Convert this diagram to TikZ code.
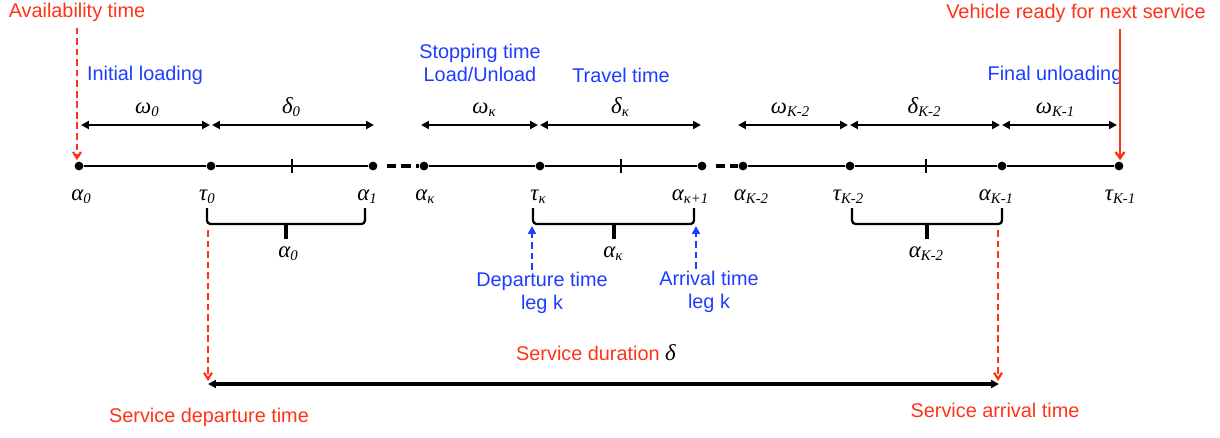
\documentclass[tikz,border=0pt]{standalone}
\usepackage[no-math]{fontspec}
\setmainfont{Liberation Sans}
\newfontfamily\gfont{Liberation Serif}
\newcommand\gl[2]{{\gfont\itshape\fontsize{13}{15}\selectfont #1\raisebox{-2.2pt}{\fontsize{8.4}{9}\selectfont #2}}}
\usetikzlibrary{arrows.meta,calc}
\definecolor{myred}{RGB}{255,51,25}
\definecolor{myblue}{RGB}{30,60,255}
\begin{document}
\begin{tikzpicture}[x=0.02cm,y=-0.02cm,
  dot/.style={circle,fill=black,inner sep=0pt,minimum size=5pt},
  tick/.style={fill=black,inner sep=0pt,minimum width=1.3pt,minimum height=7.5pt},
  axis/.style={line width=1.2pt},
  gapline/.style={line width=1.8pt,dash pattern=on 5.5pt off 3pt,shorten <=5pt},
  dim/.style={line width=1.2pt,{Triangle[length=4.5pt,width=4.5pt]}-{Triangle[length=4.5pt,width=4.5pt]}},
  bigdim/.style={line width=1.8pt,{Triangle[length=4.5pt,width=4.5pt]}-{Triangle[length=4.5pt,width=4.5pt]}},
  greek/.style={inner sep=0pt,anchor=base},
  sans/.style={font=\fontsize{11.3}{13}\selectfont,inner sep=0pt,align=center},
  bluetxt/.style={sans,text=myblue},
  redtxt/.style={sans,text=myred},
  reddash/.style={draw=myred,line width=1.3pt,dash pattern=on 3.8pt off 2.2pt,-{Straight Barb[length=3.5pt,width=4.5pt]}},
  redsolid/.style={draw=myred,line width=1.4pt,-{Straight Barb[length=3.5pt,width=5pt]}},
  bluedash/.style={draw=myblue,line width=1.6pt,dash pattern=on 3.8pt off 2.2pt,-{Triangle[length=4.5pt,width=4.5pt]}},
  bracket/.style={line width=1.3pt,rounded corners=2pt},
  nub/.style={line width=2.3pt}
]
\useasboundingbox (0,0) rectangle (1220,437);

% main time line points
\node[dot] (a0)  at (79,166)  {};
\node[dot] (t0)  at (211,166) {};
\node[dot] (a1)  at (373,166) {};
\node[dot] (ak)  at (424,166) {};
\node[dot] (tk)  at (540,166) {};
\node[dot] (ak1) at (702,166) {};
\node[dot] (aK2) at (743,166) {};
\node[dot] (tK2) at (850,166) {};
\node[dot] (aK1) at (1002,166) {};
\node[dot] (tK1) at (1119,166) {};

\draw[axis] (a0) -- (t0);
\draw[axis] (t0) -- (a1);
\draw[axis] (ak) -- (tk);
\draw[axis] (tk) -- (ak1);
\draw[axis] (aK2) -- (tK2);
\draw[axis] (tK2) -- (aK1);
\draw[axis] (aK1) -- (tK1);
\draw[gapline] (a1) -- (ak);
\draw[gapline] (ak1) -- (aK2);

\node[tick] (m0) at (292,166) {};
\node[tick] (m1) at (621,166) {};
\node[tick] (m2) at (926,166) {};

% labels under the line
\node[greek] (la0)  at (81,200)   {\gl{α}{0}};
\node[greek] (lt0)  at (207,200)  {\gl{τ}{0}};
\node[greek] (la1)  at (367,200)  {\gl{α}{1}};
\node[greek] (lak)  at (425,200)  {\gl{α}{κ}};
\node[greek] (ltk)  at (538,200)  {\gl{τ}{κ}};
\node[greek] (lak1) at (690,200)  {\gl{α}{κ+1}};
\node[greek] (laK2) at (751,200)  {\gl{α}{K-2}};
\node[greek] (ltK2) at (848,200)  {\gl{τ}{K-2}};
\node[greek] (laK1) at (996,200)  {\gl{α}{K-1}};
\node[greek] (ltK1) at (1120,200) {\gl{τ}{K-1}};

% interval arrows above the line
\coordinate (ay) at (0,125);
\draw[dim] ($(a0|-ay)+(2,0)$)  -- ($(t0|-ay)+(-1,0)$);
\draw[dim] ($(t0|-ay)+(1,0)$)  -- ($(a1|-ay)+(1,0)$);
\draw[dim] ($(ak|-ay)+(-3,0)$) -- ($(tk|-ay)+(-2,0)$);
\draw[dim] ($(tk|-ay)+(0,0)$)  -- ($(ak1|-ay)+(-1,0)$);
\draw[dim] ($(aK2|-ay)+(-5,0)$) -- ($(tK2|-ay)+(-2,0)$);
\draw[dim] ($(tK2|-ay)+(0,0)$) -- ($(aK1|-ay)+(-2,0)$);
\draw[dim] ($(aK1|-ay)+(0,0)$) -- ($(tK1|-ay)+(-2,0)$);

\node[greek] (lw0)  at (147,113)  {\gl{ω}{0}};
\node[greek] (ld0)  at (291,113)  {\gl{δ}{0}};
\node[greek] (lwk)  at (484,113)  {\gl{ω}{κ}};
\node[greek] (ldk)  at (620,113)  {\gl{δ}{κ}};
\node[greek] (lwK2) at (790,113)  {\gl{ω}{K-2}};
\node[greek] (ldK2) at (924,113)  {\gl{δ}{K-2}};
\node[greek] (lwK1) at (1055,113) {\gl{ω}{K-1}};

% blue descriptions
\node[bluetxt] (init)  at (145,75)  {Initial loading};
\node[bluetxt] (stop)  at (480,63)  {Stopping time\\Load/Unload};
\node[bluetxt] (trav)  at (621,75)  {Travel time};
\node[bluetxt] (final) at (1055,75) {Final unloading};

% red top texts and arrows
\node[redtxt] (avail) at (77,12)   {Availability time};
\node[redtxt] (veh)   at (1076,13) {Vehicle ready for next service};
\draw[reddash] ($(avail.south)+(0,6)$) -- ($(a0.north)+(-2,-1)$);
\draw[redsolid] ($(tK1|-veh.south)+(1,6)$) -- ($(tK1.north)+(1,-1)$);

% brackets
\draw[bracket] (207,208) -- (207,224) -- (365,224) -- (365,208);
\draw[nub] (286,224) -- (286,239);
\node[greek] (ba0) at (288,257) {\gl{α}{0}};

\draw[bracket] (533,208) -- (533,224) -- (694,224) -- (694,208);
\draw[nub] (614,224) -- (614,239);
\node[greek] (bak) at (613,257) {\gl{α}{κ}};

\draw[bracket] (852,208) -- (852,224) -- (1002,224) -- (1002,208);
\draw[nub] (927,224) -- (927,239);
\node[greek] (baK2) at (926,257) {\gl{α}{K-2}};

% blue departure / arrival
\node[bluetxt] (dep) at (542,293) {Departure time\\leg k};
\node[bluetxt] (arr) at (709,292) {Arrival time\\leg k};
\coordinate (deptip) at (532,226);
\coordinate (arrtip) at (696,226);
\draw[bluedash] ($(deptip|-dep.north)+(0,-2)$) -- (deptip);
\draw[bluedash] ($(arrtip|-arr.north)+(0,-2)$) -- (arrtip);

% service duration
\coordinate (sdL) at (208,384);
\coordinate (sdR) at (999,384);
\coordinate (lt) at (208,230);
\coordinate (rt) at (998,230);
\draw[bigdim] (sdL) -- (sdR);
\draw[reddash] (lt) -- ($(lt|-sdL)+(0,-3)$);
\draw[reddash] (rt) -- ($(rt|-sdR)+(0,-3)$);
\node[redtxt] (sdur) at (596,353) {Service duration \textcolor{black}{\gfont\itshape\fontsize{13}{15}\selectfont δ}};
\node[redtxt] (sdep) at (209,417) {Service departure time};
\node[redtxt] (sarr) at (995,410) {Service arrival time};
\end{tikzpicture}
\end{document}
